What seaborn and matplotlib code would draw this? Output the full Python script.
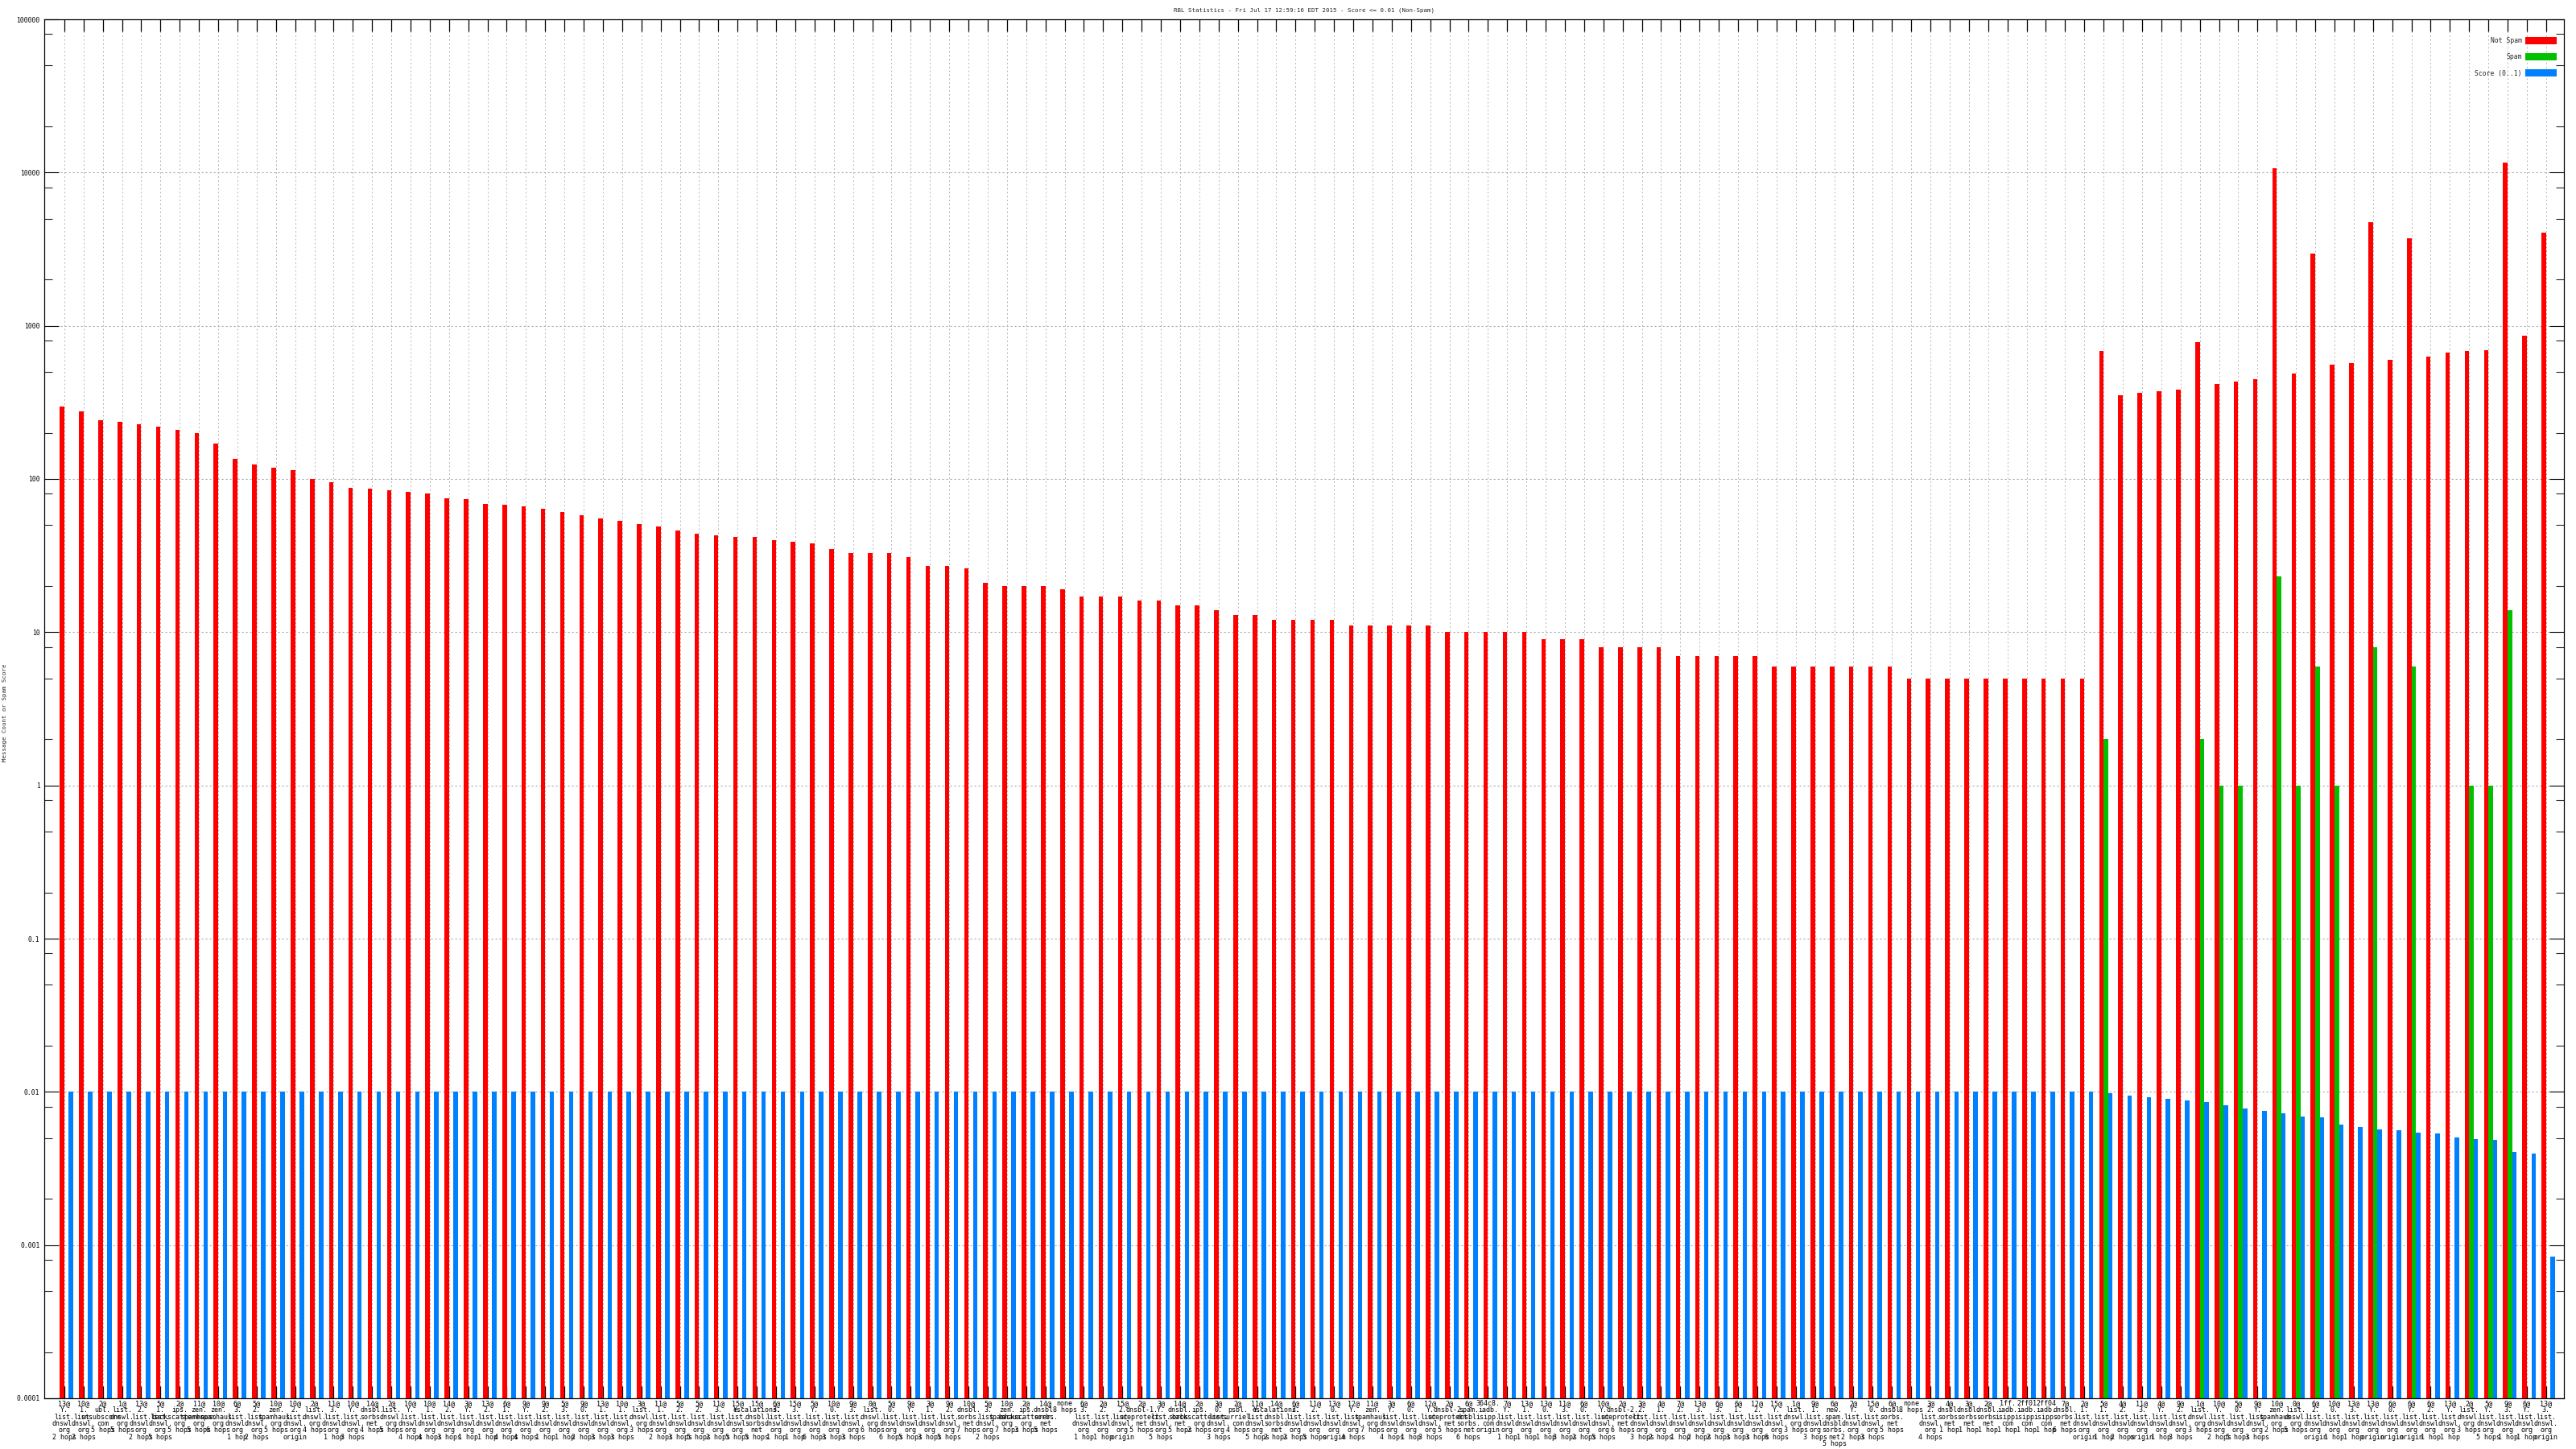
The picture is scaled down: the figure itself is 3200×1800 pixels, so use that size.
import numpy as np
import pandas as pd
import matplotlib
matplotlib.use('Agg')
import matplotlib.pyplot as plt
import seaborn as sns
from matplotlib.ticker import FixedLocator, LogLocator, NullFormatter

# ---- data ----
codes = ["13@", "10@", "2@", "1@", "13@", "5@", "2@", "11@", "10@", "6@",
         "5@", "10@", "10@", "2@", "11@", "10@", "14@", "2@", "10@", "10@",
         "14@", "3@", "13@", "6@", "9@", "9@", "5@", "9@", "13@", "10@",
         "3@", "11@", "5@", "5@", "11@", "15@", "15@", "6@", "15@", "5@",
         "10@", "9@", "0@", "5@", "9@", "3@", "9@", "10@", "5@", "10@",
         "2@", "14@", "none", "6@", "2@", "15@", "2@", "3@", "14@", "2@",
         "3@", "2@", "11@", "14@", "6@", "11@", "13@", "12@", "11@", "3@",
         "6@", "12@", "2@", "6@", "364c8.", "7@", "13@", "13@", "11@", "6@",
         "10@", "2@", "3@", "4@", "7@", "13@", "6@", "6@", "12@", "15@",
         "1@", "9@", "6@", "2@", "15@", "6@", "none", "3@", "4@", "3@",
         "2@", "1ff.", "2ff01", "2ff04", "7@", "2@", "5@", "4@", "11@", "4@",
         "9@", "1@", "10@", "5@", "9@", "10@", "0@", "6@", "10@", "13@",
         "13@", "6@", "6@", "6@", "13@", "2@", "5@", "9@", "6@", "13@"]

rbls = ["Y.list.dnswl.org", "1.list.dnswl.org", "ubl.unsubscore.com", "list.dnswl.org", "2.list.dnswl.org",
        "1.list.dnswl.org", "ips.backscatterer.org", "zen.spamhaus.org", "zen.spamhaus.org", "3.list.dnswl.org",
        "2.list.dnswl.org", "zen.spamhaus.org", "2.list.dnswl.org", "list.dnswl.org", "3.list.dnswl.org",
        "Y.list.dnswl.org", "dnsbl.sorbs.net", "list.dnswl.org", "Y.list.dnswl.org", "1.list.dnswl.org",
        "2.list.dnswl.org", "Y.list.dnswl.org", "2.list.dnswl.org", "1.list.dnswl.org", "Y.list.dnswl.org",
        "2.list.dnswl.org", "3.list.dnswl.org", "0.list.dnswl.org", "1.list.dnswl.org", "1.list.dnswl.org",
        "list.dnswl.org", "1.list.dnswl.org", "2.list.dnswl.org", "2.list.dnswl.org", "3.list.dnswl.org",
        "Y.list.dnswl.org", "escalations.dnsbl.sorbs.net", "3.list.dnswl.org", "3.list.dnswl.org", "Y.list.dnswl.org",
        "0.list.dnswl.org", "3.list.dnswl.org", "list.dnswl.org", "0.list.dnswl.org", "Y.list.dnswl.org",
        "1.list.dnswl.org", "2.list.dnswl.org", "dnsbl.sorbs.net", "3.list.dnswl.org", "zen.spamhaus.org",
        "ips.backscatterer.org", "dnsbl.sorbs.net", "", "3.list.dnswl.org", "2.list.dnswl.org",
        "2.list.dnswl.org", "dnsbl-1.uceprotect.net", "Y.list.dnswl.org", "dnsbl.sorbs.net", "ips.backscatterer.org",
        "0.list.dnswl.org", "psbl.surriel.com", "Y.list.dnswl.org", "escalations.dnsbl.sorbs.net", "2.list.dnswl.org",
        "2.list.dnswl.org", "0.list.dnswl.org", "Y.list.dnswl.org", "zen.spamhaus.org", "Y.list.dnswl.org",
        "0.list.dnswl.org", "Y.list.dnswl.org", "dnsbl-2.uceprotect.net", "spam.dnsbl.sorbs.net", "iadb.isipp.com",
        "Y.list.dnswl.org", "1.list.dnswl.org", "0.list.dnswl.org", "3.list.dnswl.org", "0.list.dnswl.org",
        "Y.list.dnswl.org", "dnsbl-2.uceprotect.net", "2.list.dnswl.org", "1.list.dnswl.org", "2.list.dnswl.org",
        "3.list.dnswl.org", "3.list.dnswl.org", "1.list.dnswl.org", "2.list.dnswl.org", "Y.list.dnswl.org",
        "list.dnswl.org", "1.list.dnswl.org", "new.spam.dnsbl.sorbs.net", "Y.list.dnswl.org", "0.list.dnswl.org",
        "dnsbl.sorbs.net", "", "2.list.dnswl.org", "dnsbl.sorbs.net", "dnsbl.sorbs.net",
        "dnsbl.sorbs.net", "iadb.isipp.com", "iadb.isipp.com", "iadb.isipp.com", "dnsbl.sorbs.net",
        "1.list.dnswl.org", "1.list.dnswl.org", "2.list.dnswl.org", "3.list.dnswl.org", "Y.list.dnswl.org",
        "2.list.dnswl.org", "list.dnswl.org", "Y.list.dnswl.org", "0.list.dnswl.org", "Y.list.dnswl.org",
        "zen.spamhaus.org", "list.dnswl.org", "2.list.dnswl.org", "0.list.dnswl.org", "3.list.dnswl.org",
        "Y.list.dnswl.org", "0.list.dnswl.org", "Y.list.dnswl.org", "2.list.dnswl.org", "Y.list.dnswl.org",
        "list.dnswl.org", "Y.list.dnswl.org", "3.list.dnswl.org", "Y.list.dnswl.org", "3.list.dnswl.org"]

hops = ["2 hops", "2 hops", "5 hops", "5 hops", "2 hops", "5 hops", "5 hops", "5 hops", "6 hops", "1 hop",
        "2 hops", "5 hops", "origin", "4 hops", "1 hop", "3 hops", "4 hops", "5 hops", "4 hops", "4 hops",
        "3 hops", "1 hop", "1 hop", "4 hops", "4 hops", "1 hop", "1 hop", "2 hops", "3 hops", "3 hops",
        "3 hops", "2 hops", "3 hops", "5 hops", "2 hops", "5 hops", "5 hops", "1 hop", "1 hop", "6 hops",
        "3 hops", "3 hops", "6 hops", "6 hops", "5 hops", "3 hops", "5 hops", "7 hops", "2 hops", "7 hops",
        "3 hops", "5 hops", "8 hops", "1 hop", "1 hop", "origin", "5 hops", "5 hops", "5 hops", "2 hops",
        "3 hops", "4 hops", "5 hops", "2 hops", "2 hops", "5 hops", "origin", "4 hops", "7 hops", "4 hops",
        "1 hop", "3 hops", "5 hops", "6 hops", "origin", "1 hop", "1 hop", "1 hop", "3 hops", "2 hops",
        "5 hops", "6 hops", "3 hops", "2 hops", "1 hop", "2 hops", "2 hops", "3 hops", "3 hops", "6 hops",
        "3 hops", "3 hops", "5 hops", "2 hops", "3 hops", "5 hops", "8 hops", "4 hops", "1 hop", "1 hop",
        "1 hop", "1 hop", "1 hop", "1 hop", "6 hops", "origin", "1 hop", "2 hops", "origin", "1 hop",
        "3 hops", "3 hops", "2 hops", "5 hops", "3 hops", "2 hops", "5 hops", "origin", "1 hop", "1 hop",
        "origin", "origin", "origin", "1 hop", "1 hop", "3 hops", "5 hops", "1 hop", "1 hop", "origin"]

not_spam = [296, 275, 241, 235, 229, 219, 208, 199, 170, 136,
            124, 119, 114, 100, 95, 88, 87, 84, 82, 80,
            75, 74, 69, 68, 66, 64, 61, 58, 55, 53,
            51, 49, 46, 44, 43, 42, 42, 40, 39, 38,
            35, 33, 33, 33, 31, 27, 27, 26, 21, 20,
            20, 20, 19, 17, 17, 17, 16, 16, 15, 15,
            14, 13, 13, 12, 12, 12, 12, 11, 11, 11,
            11, 11, 10, 10, 10, 10, 10, 9, 9, 9,
            8, 8, 8, 8, 7, 7, 7, 7, 7, 6,
            6, 6, 6, 6, 6, 6, 5, 5, 5, 5,
            5, 5, 5, 5, 5, 5, 681, 354, 363, 372,
            382, 782, 415, 431, 448, 10720, 487, 2958, 555, 570,
            4730, 596, 3725, 627, 668, 681, 689, 11640, 861, 4060]

spam = [0] * 106 + [2, 0, 0, 0, 0, 2, 1, 1, 0, 23,
                    1, 6, 1, 0, 8, 0, 6, 0, 0, 1,
                    1, 14, 0, 0]

score = [0.01] * 106 + [0.00976, 0.00942, 0.00919, 0.00897, 0.00876, 0.00855,
                        0.00814, 0.00776, 0.00748, 0.00722, 0.00688, 0.00679,
                        0.00609, 0.00588, 0.00567, 0.00560, 0.00540, 0.00533,
                        0.00501, 0.00490, 0.00484, 0.00404, 0.00394, 0.00084]

series_names = ["Not Spam", "Spam", "Score (0..1)"]
series_colors = ["#ff0000", "#00c000", "#0080ff"]

ytick_vals = [1e-4, 1e-3, 1e-2, 1e-1, 1, 10, 100, 1000, 10000, 100000]
ytick_labels = ["0.0001", "0.001", "0.01", "0.1", "1", "10", "100", "1000", "10000", "100000"]

title = "RBL Statistics - Fri Jul 17 12:59:16 EDT 2015 - Score <= 0.01 (Non-Spam)"


def make_label(code, rbl, hop):
    parts = [code]
    if rbl:
        pieces = rbl.split('.')
        parts += [p + '.' for p in pieces[:-1]] + [pieces[-1]]
    parts.append(hop)
    return '\n'.join(parts)


n = len(not_spam)
labels = [make_label(c, r, h) for c, r, h in zip(codes, rbls, hops)]

rows = []
for i in range(n):
    for name, vals in zip(series_names, [not_spam, spam, score]):
        if vals[i] > 0:
            rows.append({"pos": i, "series": name, "value": vals[i]})
df = pd.DataFrame(rows)

# ---- plot ----
sns.set_theme(style='white')
plt.rcParams['font.family'] = ['DejaVu Sans Mono', 'DejaVu Sans']

W, H = 3200, 1800
fig = plt.figure(figsize=(W / 100, H / 100), dpi=100)
ax = fig.add_axes([55 / W, 1 - 1737 / H, 3130 / W, 1713 / H])

sns.barplot(data=df, x="pos", y="value", hue="series", order=list(range(n)),
            hue_order=series_names, palette=series_colors, width=0.70,
            errorbar=None, saturation=1, linewidth=0, ax=ax)

ax.set_yscale('log')
ax.set_ylim(1e-4, 1e5)
ax.set_xlim(-1.155, 129.81)
ax.set_xlabel('')
ax.set_ylabel('')

ax.yaxis.set_major_locator(FixedLocator(ytick_vals))
ax.set_yticklabels(ytick_labels)
ax.yaxis.set_minor_locator(LogLocator(base=10, subs=[2, 5, 8], numticks=30))
ax.yaxis.set_minor_formatter(NullFormatter())

ax.set_xticks(np.arange(n) - 0.117)
ax.set_xticklabels(labels)
for t in ax.get_xticklabels():
    t.set_linespacing(0.9)
    t.set_multialignment('center')

ax.tick_params(axis='y', which='major', direction='in', length=13, width=0.8,
               left=True, right=True, labelsize=5.8, pad=4, colors='black')
ax.tick_params(axis='y', which='minor', direction='in', length=7, width=0.8,
               left=True, right=True)
ax.tick_params(axis='x', which='major', direction='in', length=11, width=0.9,
               top=True, bottom=True, labelsize=6, pad=1.5, colors='black')

ax.set_axisbelow(True)
ax.grid(True, axis='x', which='major', color='#b4b4b4', lw=0.7, ls=(0, (2, 3)))
ax.grid(True, axis='y', which='major', color='#a8a8a8', lw=0.8, ls=(0, (2, 2.5)))
for s in ax.spines.values():
    s.set_color('black')
    s.set_linewidth(0.9)

handles, hl = ax.get_legend_handles_labels()
ax.legend(handles, hl, loc='upper right', bbox_to_anchor=(3176 / W, 1 - 46 / H),
          bbox_transform=fig.transFigure, frameon=False, markerfirst=False,
          fontsize=5.8, handlelength=4.8, handleheight=1.36, labelspacing=1.36,
          handletextpad=0.6, borderpad=0, borderaxespad=0)

fig.text(1620 / W, 1 - 13 / H, title, ha='center', va='center', fontsize=5.3)
fig.text(6 / W, 1 - 885 / H, 'Message Count or Spam Score', rotation=90,
         ha='center', va='center', fontsize=5.3)

fig.savefig('out.png', dpi=100)
